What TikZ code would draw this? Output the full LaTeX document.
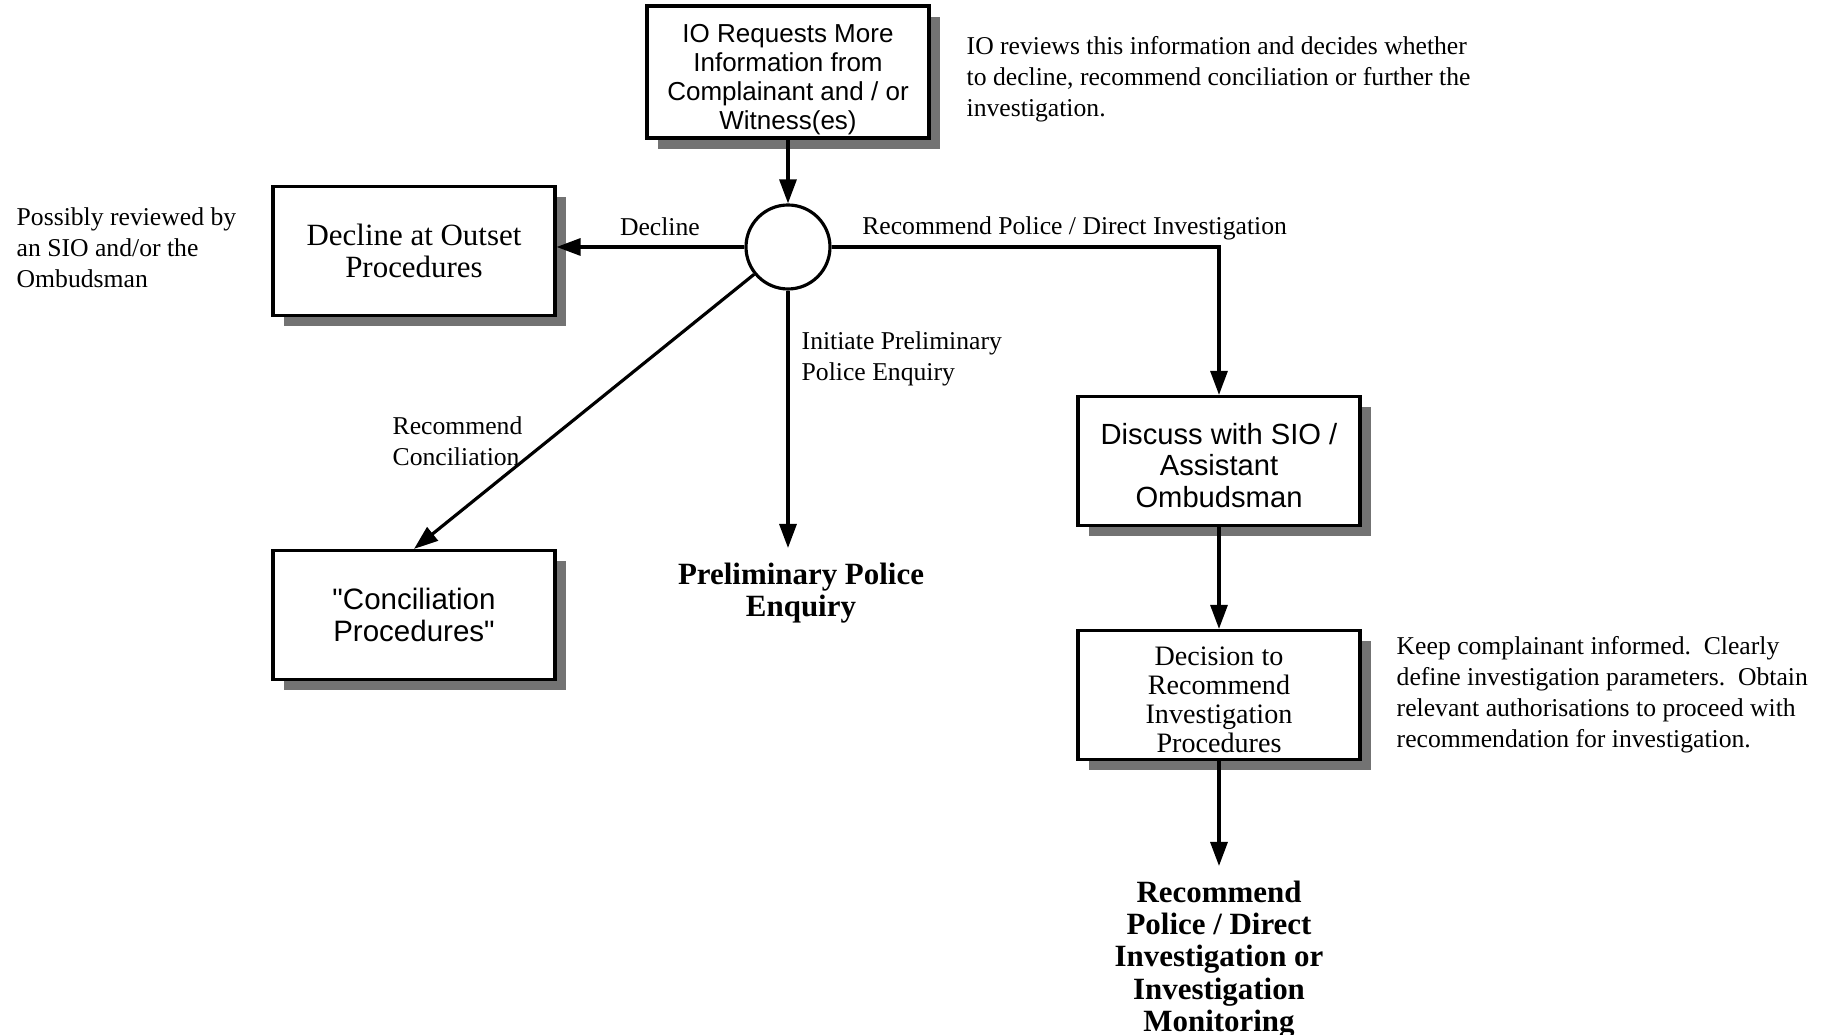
\documentclass[tikz,border=0pt]{standalone}
\usepackage{fontspec}
\setmainfont{Liberation Serif}
\setsansfont{Liberation Sans}
\newfontfamily\straightsans{Liberation Sans}
\usetikzlibrary{arrows.meta,shadows}

\begin{document}
\begin{tikzpicture}[x=1mm,y=-1mm,
    box/.style={draw,line width=0.9pt,fill=white,minimum width=28.2mm,minimum height=12.9mm,
      align=center,inner sep=1pt,
      drop shadow={shadow xshift=1.1mm,shadow yshift=-1.1mm,fill=black!55,opacity=1}},
    note/.style={font=\fontsize{7.3}{8.8}\selectfont,align=left,inner sep=0pt},
    big/.style={font=\fontsize{8.8}{9.2}\selectfont\bfseries,align=center,inner sep=1.4mm},
    flow/.style={line width=0.9pt,-{Triangle[length=2.4mm,width=1.7mm]}}]
  \useasboundingbox (0,0) rectangle (183,103.5);

  % boxes (the rules push the first line down a little)
  \node[box,font=\sffamily\fontsize{7.4}{8.2}\selectfont] (io) at (78.8,7.2)
    {\rule{0pt}{3.3mm}IO Requests More\\Information from\\Complainant and / or\\Witness(es)};
  \node[box,font=\fontsize{8.8}{9.2}\selectfont] (decl) at (41.4,25.1)
    {Decline at Outset\\Procedures};
  \node[box,font=\straightsans\fontsize{8.4}{8.9}\selectfont] (conc) at (41.4,61.5)
    {"Conciliation\\Procedures"};
  \node[box,font=\sffamily\fontsize{8.3}{8.9}\selectfont] (disc) at (121.9,46.1)
    {\rule{0pt}{3.0mm}Discuss with SIO /\\Assistant\\Ombudsman};
  \node[box,font=\fontsize{8.0}{8.3}\selectfont] (dec) at (121.9,69.5)
    {\rule{0pt}{2.8mm}Decision to\\Recommend\\Investigation\\Procedures};
  \node[draw,circle,line width=0.9pt,minimum size=8.4mm] (hub) at (78.8,24.7) {};

  % outcomes
  \node[big,anchor=north] (prel) at (80.1,54.8) {Preliminary Police\\Enquiry};
  \node[big,anchor=north] (res) at (121.9,86.6)
    {Recommend\\Police / Direct\\Investigation or\\Investigation\\Monitoring};

  % side notes
  \node[note,anchor=west] (ionote) at (96.6,7.95)
    {IO reviews this information and decides whether\\to decline, recommend conciliation or further the\\investigation.};
  \node[note,anchor=west] (declnote) at (1.6,24.75)
    {Possibly reviewed by\\an SIO and/or the\\Ombudsman};
  \node[note,anchor=west] (decnote) at (139.6,69.45)
    {Keep complainant informed.\ \ Clearly\\define investigation parameters.\ \ Obtain\\relevant authorisations to proceed with\\recommendation for investigation.};
  \node[note,anchor=south west] (polab) at ([xshift=3mm,yshift=0.6mm]hub.east)
    {Recommend Police / Direct Investigation};
  \node[note,anchor=west] (prlab) at (80.1,35.9) {Initiate Preliminary\\Police Enquiry};
  \node[note,anchor=west] (colab) at (39.2,44.15) {Recommend\\Conciliation};

  % connectors
  \draw[flow] (io) -- (hub);
  \draw[flow] (hub.west) -- (hub.west -| decl.east)
    node[note,pos=0.45,above=1.0mm] (dlab) {Decline};
  \draw[flow] (hub.east) -| (disc.north);
  \draw[flow] (hub) -- (conc.north);
  \draw[flow] (hub.south) -- (hub.south |- prel.north);
  \draw[flow] (disc) -- (dec);
  \draw[flow] (dec) -- (res);
\end{tikzpicture}
\end{document}
